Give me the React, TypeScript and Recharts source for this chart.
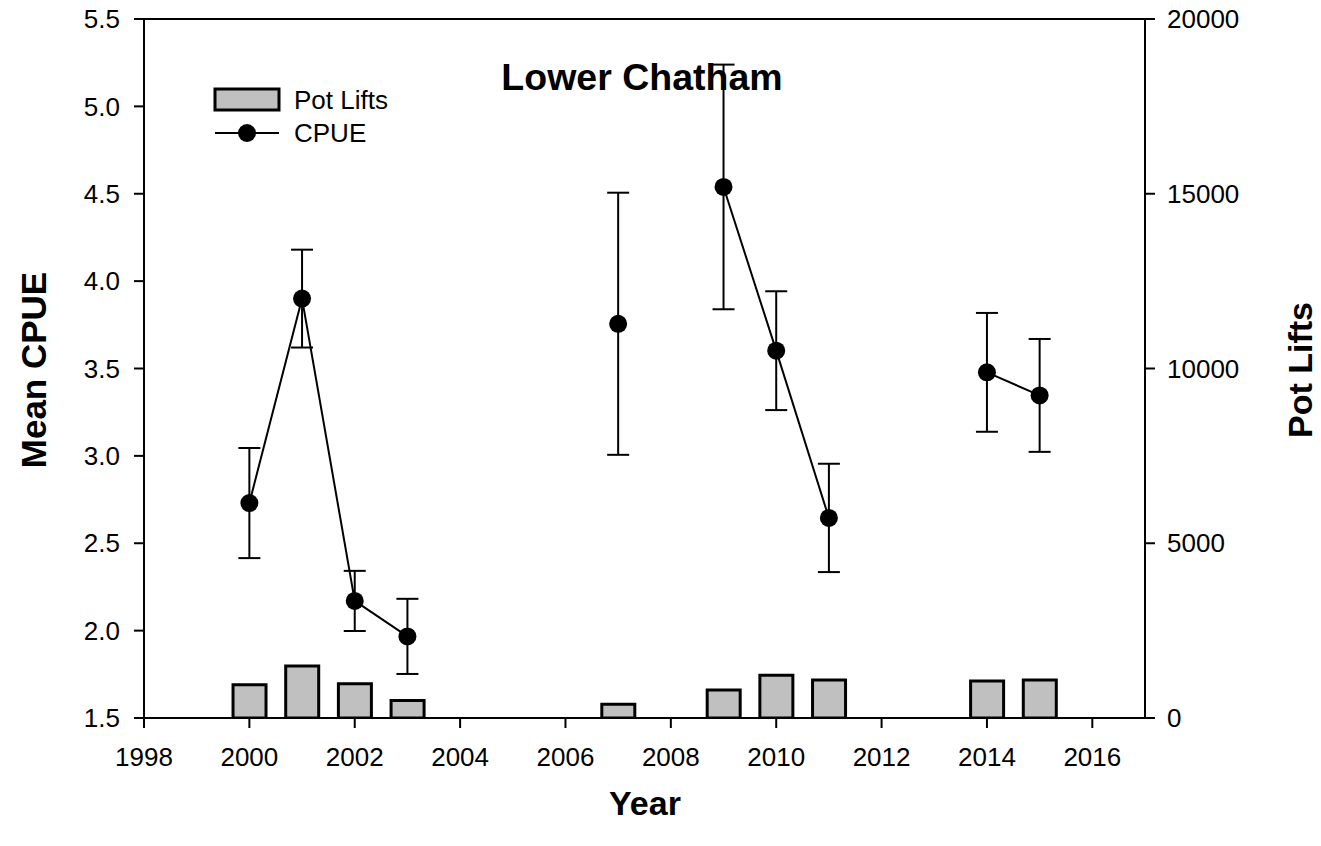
import React from 'react';
import {
  Bar,
  ComposedChart,
  ErrorBar,
  Line,
  ReferenceLine,
  XAxis,
  YAxis,
} from 'recharts';

// years on the x axis, null where no survey was done
const years = [2000, 2001, 2002, 2003, 2004, 2005, 2006, 2007, 2008, 2009, 2010, 2011, 2012, 2013, 2014, 2015];
const potLifts = [950, 1490, 980, 500, null, null, null, 390, null, 800, 1220, 1090, null, null, 1060, 1090];
const cpue = [2.73, 3.9, 2.17, 1.967, null, null, null, 3.756, null, 4.539, 3.602, 2.645, null, null, 3.478, 3.346];
const cpueErr = [0.315, 0.28, 0.172, 0.215, null, null, null, 0.75, null, 0.7, 0.34, 0.31, null, null, 0.34, 0.323];

const xTicks = [1998, 2000, 2002, 2004, 2006, 2008, 2010, 2012, 2014, 2016];
const leftTicks = [1.5, 2.0, 2.5, 3.0, 3.5, 4.0, 4.5, 5.0, 5.5];
const rightTicks = [0, 5000, 10000, 15000, 20000];

const data = years.map((year, i) => ({
  year,
  potLifts: potLifts[i],
  cpue: cpue[i],
  cpueErr: cpueErr[i] ?? 0,
}));

const font = '"Liberation Sans", Arial, sans-serif';
const tickStyle = { fill: '#000', fontSize: 26, fontFamily: font };

const centered = (left: number, top: number, extra: React.CSSProperties = {}): React.CSSProperties => ({
  position: 'absolute',
  left,
  top,
  transform: 'translate(-50%, -50%)',
  lineHeight: 1,
  whiteSpace: 'nowrap',
  fontFamily: font,
  color: '#000',
  ...extra,
});

export default function App() {
  return (
    <div style={{ position: 'absolute', left: 0, top: 0, width: 1321, height: 846, background: '#fff' }}>
      <ComposedChart
        width={1321}
        height={846}
        data={data}
        margin={{ top: 19, right: 0, bottom: 68, left: 0 }}
      >
        <XAxis
          dataKey="year"
          type="number"
          domain={[1998, 2017]}
          ticks={xTicks}
          allowDataOverflow
          height={60}
          tick={tickStyle}
          tickSize={10}
          tickMargin={20}
          axisLine={{ stroke: '#000', strokeWidth: 2 }}
          tickLine={{ stroke: '#000', strokeWidth: 2 }}
        />
        <YAxis
          yAxisId="left"
          domain={[1.5, 5.5]}
          ticks={leftTicks}
          allowDataOverflow
          width={144}
          tickFormatter={(v) => Number(v).toFixed(1)}
          tick={tickStyle}
          tickSize={10}
          tickMargin={14}
          axisLine={{ stroke: '#000', strokeWidth: 2 }}
          tickLine={{ stroke: '#000', strokeWidth: 2 }}
        />
        <YAxis
          yAxisId="right"
          orientation="right"
          domain={[0, 20000]}
          ticks={rightTicks}
          allowDataOverflow
          width={176}
          tick={tickStyle}
          tickSize={10}
          tickMargin={12}
          axisLine={{ stroke: '#000', strokeWidth: 2 }}
          tickLine={{ stroke: '#000', strokeWidth: 2 }}
        />
        <ReferenceLine yAxisId="left" y={5.5} stroke="#000" strokeWidth={2} />
        <Bar
          yAxisId="right"
          dataKey="potLifts"
          barSize={33}
          fill="#c0c0c0"
          stroke="#000"
          strokeWidth={3}
          isAnimationActive={false}
        />
        <Line
          yAxisId="left"
          dataKey="cpue"
          type="linear"
          stroke="#000"
          strokeWidth={2}
          connectNulls={false}
          dot={{ r: 9, fill: '#000', stroke: '#000', strokeWidth: 0 }}
          activeDot={false}
          isAnimationActive={false}
        >
          <ErrorBar dataKey="cpueErr" direction="y" width={11} stroke="#000" strokeWidth={2} isAnimationActive={false} />
        </Line>
      </ComposedChart>

      <div style={centered(642, 78, { fontSize: 37.5, fontWeight: 'bold' })}>Lower Chatham</div>
      <div style={centered(645, 803, { fontSize: 34, fontWeight: 'bold' })}>Year</div>
      <div style={centered(33, 370, { fontSize: 35, fontWeight: 'bold', transform: 'translate(-50%, -50%) rotate(-90deg)' })}>
        Mean CPUE
      </div>
      <div style={centered(1300, 370, { fontSize: 34, fontWeight: 'bold', transform: 'translate(-50%, -50%) rotate(-90deg)' })}>
        Pot Lifts
      </div>

      {/* legend */}
      <svg style={{ position: 'absolute', left: 210, top: 84 }} width={80} height={60}>
        <rect x={5} y={5} width={64} height={21} fill="#c0c0c0" stroke="#000" strokeWidth={3} />
        <line x1={5} y1={49} x2={69} y2={49} stroke="#000" strokeWidth={2} />
        <circle cx={37} cy={49} r={9} fill="#000" />
      </svg>
      <div style={{ position: 'absolute', left: 294, top: 100, transform: 'translateY(-50%)', fontFamily: font, fontSize: 26, lineHeight: 1 }}>
        Pot Lifts
      </div>
      <div style={{ position: 'absolute', left: 294, top: 133, transform: 'translateY(-50%)', fontFamily: font, fontSize: 26, lineHeight: 1 }}>
        CPUE
      </div>
    </div>
  );
}
